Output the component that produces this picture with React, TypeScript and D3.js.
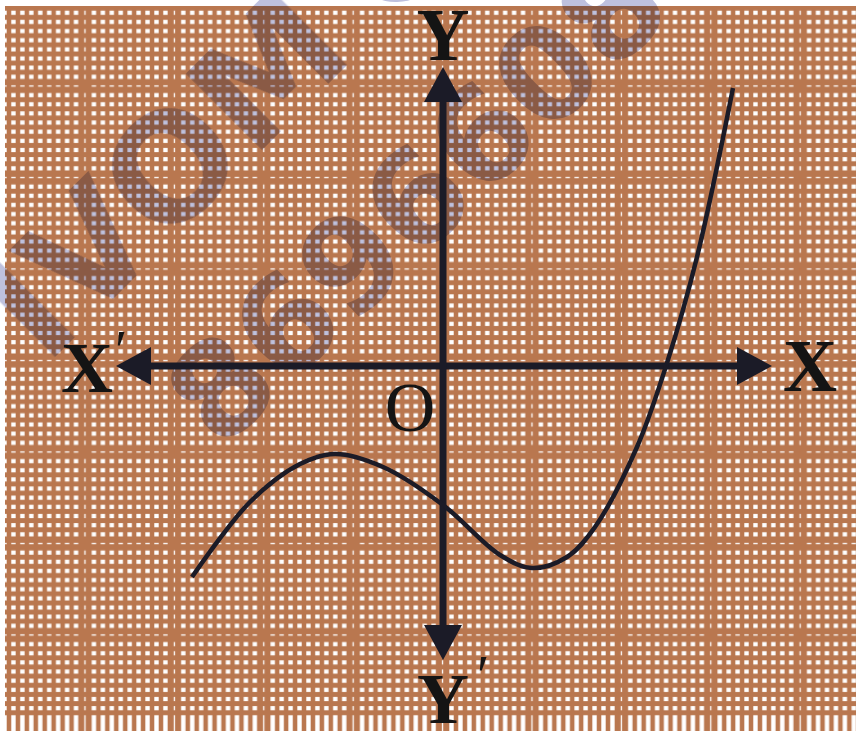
import React from 'react';
import * as d3 from 'd3';

const WIDTH = 856;
const HEIGHT = 731;

// Axis extents (data units, 1 unit = 50 px)
const xAxisExtent = [-6.54, 6.58];
const yAxisExtent = [-5.88, 5.98];

// Curve samples
const curveXs = [-5.02, -3.86, -2.86, -2.16, -1.2, 0, 1.14, 1.78, 2.48, 3.04, 3.88, 4.48, 5.08, 5.8];
const curveYs = [-4.22, -2.72, -1.96, -1.76, -2.02, -2.78, -3.78, -4.04, -3.82, -3.22, -1.62, 0.06, 2.18, 5.56];

// Labels
const axisLabels = ['X', 'X′', 'Y', 'Y′'];
const originLabel = 'O';
const watermarkWord = 'IVOM';
const watermarkTail = 'C';
const watermarkNumber = '8696608';

const BROWN = '#b9774f';
const INK = '#1b1b27';

export default function App() {
  const x = d3.scaleLinear().domain([-8.86, 8.26]).range([0, WIDTH]);
  const y = d3.scaleLinear().domain([7.32, -7.3]).range([0, HEIGHT]);

  const pts: [number, number][] = curveXs.map((v, i) => [v, curveYs[i]]);
  const line = d3
    .line<[number, number]>()
    .x((d) => x(d[0]))
    .y((d) => y(d[1]))
    .curve(d3.curveCatmullRom.alpha(0.5));

  const x0 = x(0);
  const y0 = y(0);
  const xl = x(xAxisExtent[0]);
  const xr = x(xAxisExtent[1]);
  const yt = y(yAxisExtent[1]);
  const yb = y(yAxisExtent[0]);
  const AL = 35; // arrow length
  const AW = 19; // arrow half width

  const cw = 8.94;
  const ch = 9.15;
  const cells = d3.range(10);

  return (
    <svg
      width={WIDTH}
      height={HEIGHT}
      style={{ position: 'absolute', left: 0, top: 0, background: '#fff' }}
    >
      <defs>
        <pattern id="grid" patternUnits="userSpaceOnUse" width={cw * 10} height={ch * 10} x={-8.9} y={-10.1}>
          <rect width={cw * 10} height={ch * 10} fill={BROWN} />
          {cells.map((i) =>
            cells.map((j) => {
              const cx = i * cw + cw / 2;
              const cy = j * ch + ch / 2;
              let w = 4.4;
              let h = 4.2;
              if (i === 0 && j === 0) return null;
              if (i === 0) w = 1.3;
              if (j === 0) h = 1.3;
              return <rect key={`${i}-${j}`} x={cx - w / 2} y={cy - h / 2} width={w} height={h} fill="#fff" />;
            })
          )}
        </pattern>
        <pattern id="cols" patternUnits="userSpaceOnUse" width={cw * 10} height={20} x={-8.9} y={0}>
          <rect width={cw * 10} height={20} fill={BROWN} />
          {cells.map((i) => {
            const cx = i * cw + cw / 2;
            const w = i === 0 ? 1.3 : 4.4;
            return <rect key={i} x={cx - w / 2} y={0} width={w} height={20} fill="#fff" />;
          })}
        </pattern>
      </defs>

      <rect x={5} y={6} width={WIDTH - 5} height={712} fill="url(#grid)" />
      <rect x={5} y={718} width={WIDTH - 5} height={HEIGHT - 718} fill="url(#cols)" />

      {/* watermark */}
      <g style={{ mixBlendMode: 'multiply' }} fill="#bec1de" fontFamily="DejaVu Sans" fontWeight="bold">
        <text x={165} y={175} fontSize={148} textAnchor="middle" dominantBaseline="central" transform="rotate(-45 165 175)">
          {watermarkWord}
        </text>
        <text x={392} y={-47} fontSize={148} textAnchor="middle" dominantBaseline="central" transform="rotate(-45 392 -47)">
          {watermarkTail}
        </text>
        <text x={417} y={200} fontSize={130} textAnchor="middle" dominantBaseline="central" transform="rotate(-44 417 200)">
          {watermarkNumber}
        </text>
      </g>

      {/* axes */}
      <g fill={INK} stroke={INK}>
        <line x1={xl + AL - 2} y1={y0} x2={xr - AL + 2} y2={y0} strokeWidth={7} />
        <line x1={x0} y1={yt + AL - 2} x2={x0} y2={yb - AL + 2} strokeWidth={7} />
        <path stroke="none" d={`M${xl},${y0} L${xl + AL},${y0 - AW} L${xl + AL},${y0 + AW} Z`} />
        <path stroke="none" d={`M${xr},${y0} L${xr - AL},${y0 - AW} L${xr - AL},${y0 + AW} Z`} />
        <path stroke="none" d={`M${x0},${yt} L${x0 - AW},${yt + AL} L${x0 + AW},${yt + AL} Z`} />
        <path stroke="none" d={`M${x0},${yb} L${x0 - AW},${yb - AL} L${x0 + AW},${yb - AL} Z`} />
      </g>

      {/* curve */}
      <path d={line(pts) ?? ''} fill="none" stroke={INK} strokeWidth={4.5} />

      {/* labels */}
      <g fontFamily="'Liberation Serif', 'Times New Roman', serif" fill="#141414" fontWeight="bold">
        <text x={810} y={y0 + 25} fontSize={75} textAnchor="middle">
          {axisLabels[0]}
        </text>
        <text x={61} y={y0 + 26} fontSize={72} textAnchor="start">
          {axisLabels[1].charAt(0)}
          <tspan dx={2} dy={-22} fontSize={56} fontWeight="normal">
            {axisLabels[1].charAt(1)}
          </tspan>
        </text>
        <text x={x0} y={60} fontSize={73} textAnchor="middle">
          {axisLabels[2]}
        </text>
        <text x={417} y={723} fontSize={72} textAnchor="start">
          {axisLabels[3].charAt(0)}
          <tspan dx={8} dy={-28} fontSize={56} fontWeight="normal">
            {axisLabels[3].charAt(1)}
          </tspan>
        </text>
        <text x={410} y={431} fontSize={70} fontWeight="normal" textAnchor="middle">
          {originLabel}
        </text>
      </g>
    </svg>
  );
}
